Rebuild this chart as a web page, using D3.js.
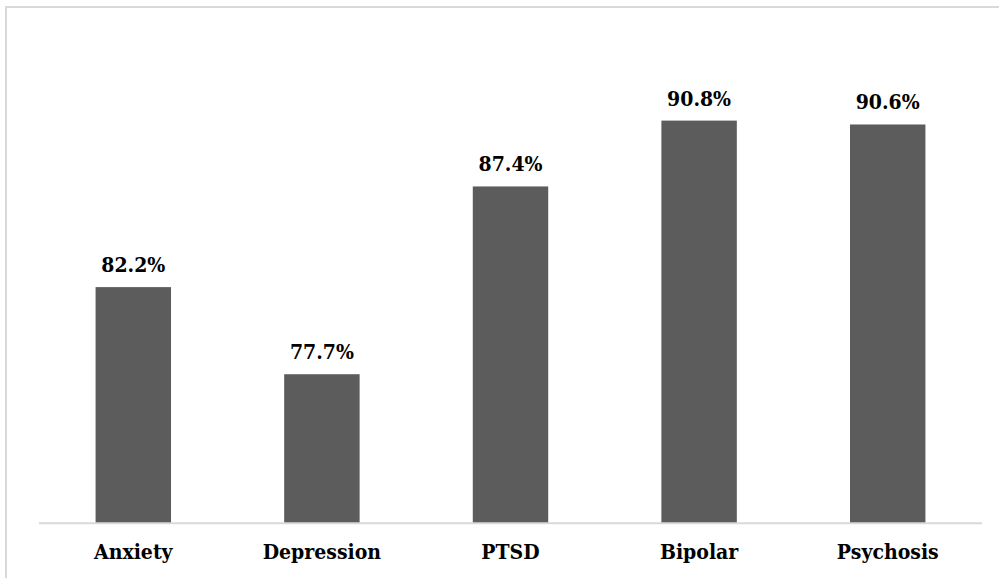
<!DOCTYPE html>
<html>
<head>
<meta charset="utf-8">
<script src="https://cdn.jsdelivr.net/npm/d3@7/dist/d3.min.js"></script>
<style>
  html, body { margin: 0; padding: 0; background: #ffffff; }
  svg { display: block; }
  .lbl {
    font-family: "DejaVu Serif", serif;
    font-stretch: condensed;
    font-weight: bold;
  }
</style>
</head>
<body>
<svg id="chart" width="999" height="578"></svg>
<script>
// Share of respondents by condition
const categories = ["Anxiety", "Depression", "PTSD", "Bipolar", "Psychosis"];
const values = [82.2, 77.7, 87.4, 90.8, 90.6];
const valueLabels = ["82.2%", "77.7%", "87.4%", "90.8%", "90.6%"];
const yDomain = [70, 95];

const svg = d3.select("#chart");
const plot = { left: 39, right: 982, top: 39.3, bottom: 523.3 };

// outer chart frame (extends past the visible page on the right and bottom)
svg.append("rect")
  .attr("x", 6).attr("y", 7)
  .attr("width", 1100).attr("height", 700)
  .attr("fill", "none")
  .attr("stroke", "#d9d9d9")
  .attr("stroke-width", 2);

const x = d3.scaleBand()
  .domain(categories)
  .range([plot.left, plot.right])
  .paddingInner(0.6)
  .paddingOuter(0.3);

const y = d3.scaleLinear()
  .domain(yDomain)
  .range([plot.bottom, plot.top]);

const data = categories.map((c, i) => ({ cat: c, v: values[i], label: valueLabels[i] }));

// bars
svg.append("g").selectAll("rect")
  .data(data)
  .join("rect")
  .attr("x", d => x(d.cat))
  .attr("y", d => y(d.v))
  .attr("width", x.bandwidth())
  .attr("height", d => y(yDomain[0]) - y(d.v))
  .attr("fill", "#5c5c5c");

// category axis
const xAxis = svg.append("g")
  .attr("transform", `translate(0,${plot.bottom})`)
  .call(d3.axisBottom(x).tickSize(0).tickPadding(21));
xAxis.attr("font-family", null).attr("font-size", null);
xAxis.select(".domain")
  .attr("stroke", "#d9d9d9")
  .attr("stroke-width", 2)
  .attr("d", `M${plot.left},0H${plot.right}`);
xAxis.selectAll("text")
  .attr("class", "lbl")
  .style("font-size", "21px")
  .attr("fill", "#000")
  .attr("dy", "0.71em");

// value labels
svg.append("g").selectAll("text")
  .data(data)
  .join("text")
  .attr("class", "lbl")
  .attr("x", d => x(d.cat) + x.bandwidth() / 2)
  .attr("y", d => y(d.v) - 15)
  .attr("text-anchor", "middle")
  .style("font-size", "21px")
  .attr("fill", "#000")
  .text(d => d.label);
</script>
</body>
</html>
